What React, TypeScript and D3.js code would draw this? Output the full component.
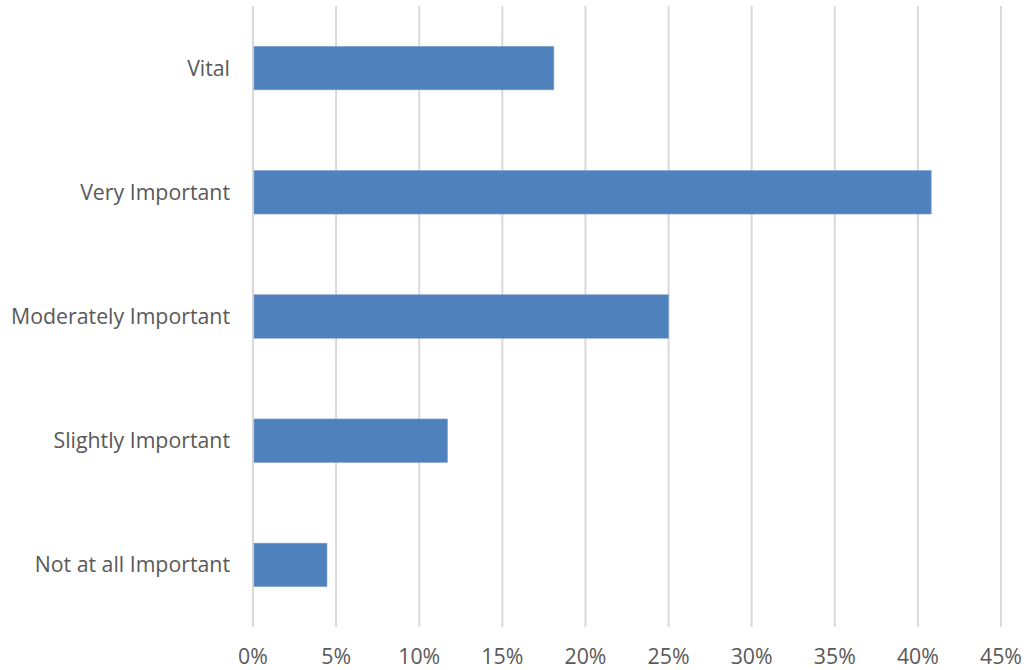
import React from "react";
import * as d3 from "d3";

const categories = ["Vital", "Very Important", "Moderately Important", "Slightly Important", "Not at all Important"];
const values = [18.1, 40.8, 25.0, 11.7, 4.45];
const tickValues = [0, 5, 10, 15, 20, 25, 30, 35, 40, 45];

export default function App() {
  const width = 1035;
  const height = 670;
  const left = 253;
  const right = 1001;
  const top = 6;
  const bottom = 627;

  const x = d3.scaleLinear().domain([0, 45]).range([left, right]);
  const y = d3
    .scaleBand<string>()
    .domain(categories)
    .range([top, bottom])
    .paddingInner(0.65)
    .paddingOuter(0.325);

  const font = "'Open Sans', sans-serif";
  const fs = 21.3;

  return (
    <svg
      width={width}
      height={height}
      style={{ position: "absolute", left: 0, top: 0, background: "#fff" }}
    >
      {tickValues.map((t) => (
        <line
          key={"g" + t}
          x1={x(t)}
          x2={x(t)}
          y1={top}
          y2={bottom}
          stroke="#D9D9D9"
          strokeWidth={2}
        />
      ))}
      {categories.map((c, i) => (
        <rect
          key={c}
          x={x(0) + 1}
          y={y(c)}
          width={x(values[i]) - x(0) - 1}
          height={y.bandwidth()}
          fill="#4F81BD"
          stroke="#7EA1CF"
          strokeWidth={0.6}
        />
      ))}
      {categories.map((c) => (
        <text
          key={"l" + c}
          x={230}
          y={(y(c) as number) + y.bandwidth() / 2}
          dy="0.35em"
          textAnchor="end"
          fill="#595959"
          fontSize={fs}
          fontFamily={font}
        >
          {c}
        </text>
      ))}
      {tickValues.map((t) => (
        <text
          key={"t" + t}
          x={x(t)}
          y={664}
          textAnchor="middle"
          fill="#595959"
          fontSize={fs}
          fontFamily={font}
        >
          {t + "%"}
        </text>
      ))}
    </svg>
  );
}
